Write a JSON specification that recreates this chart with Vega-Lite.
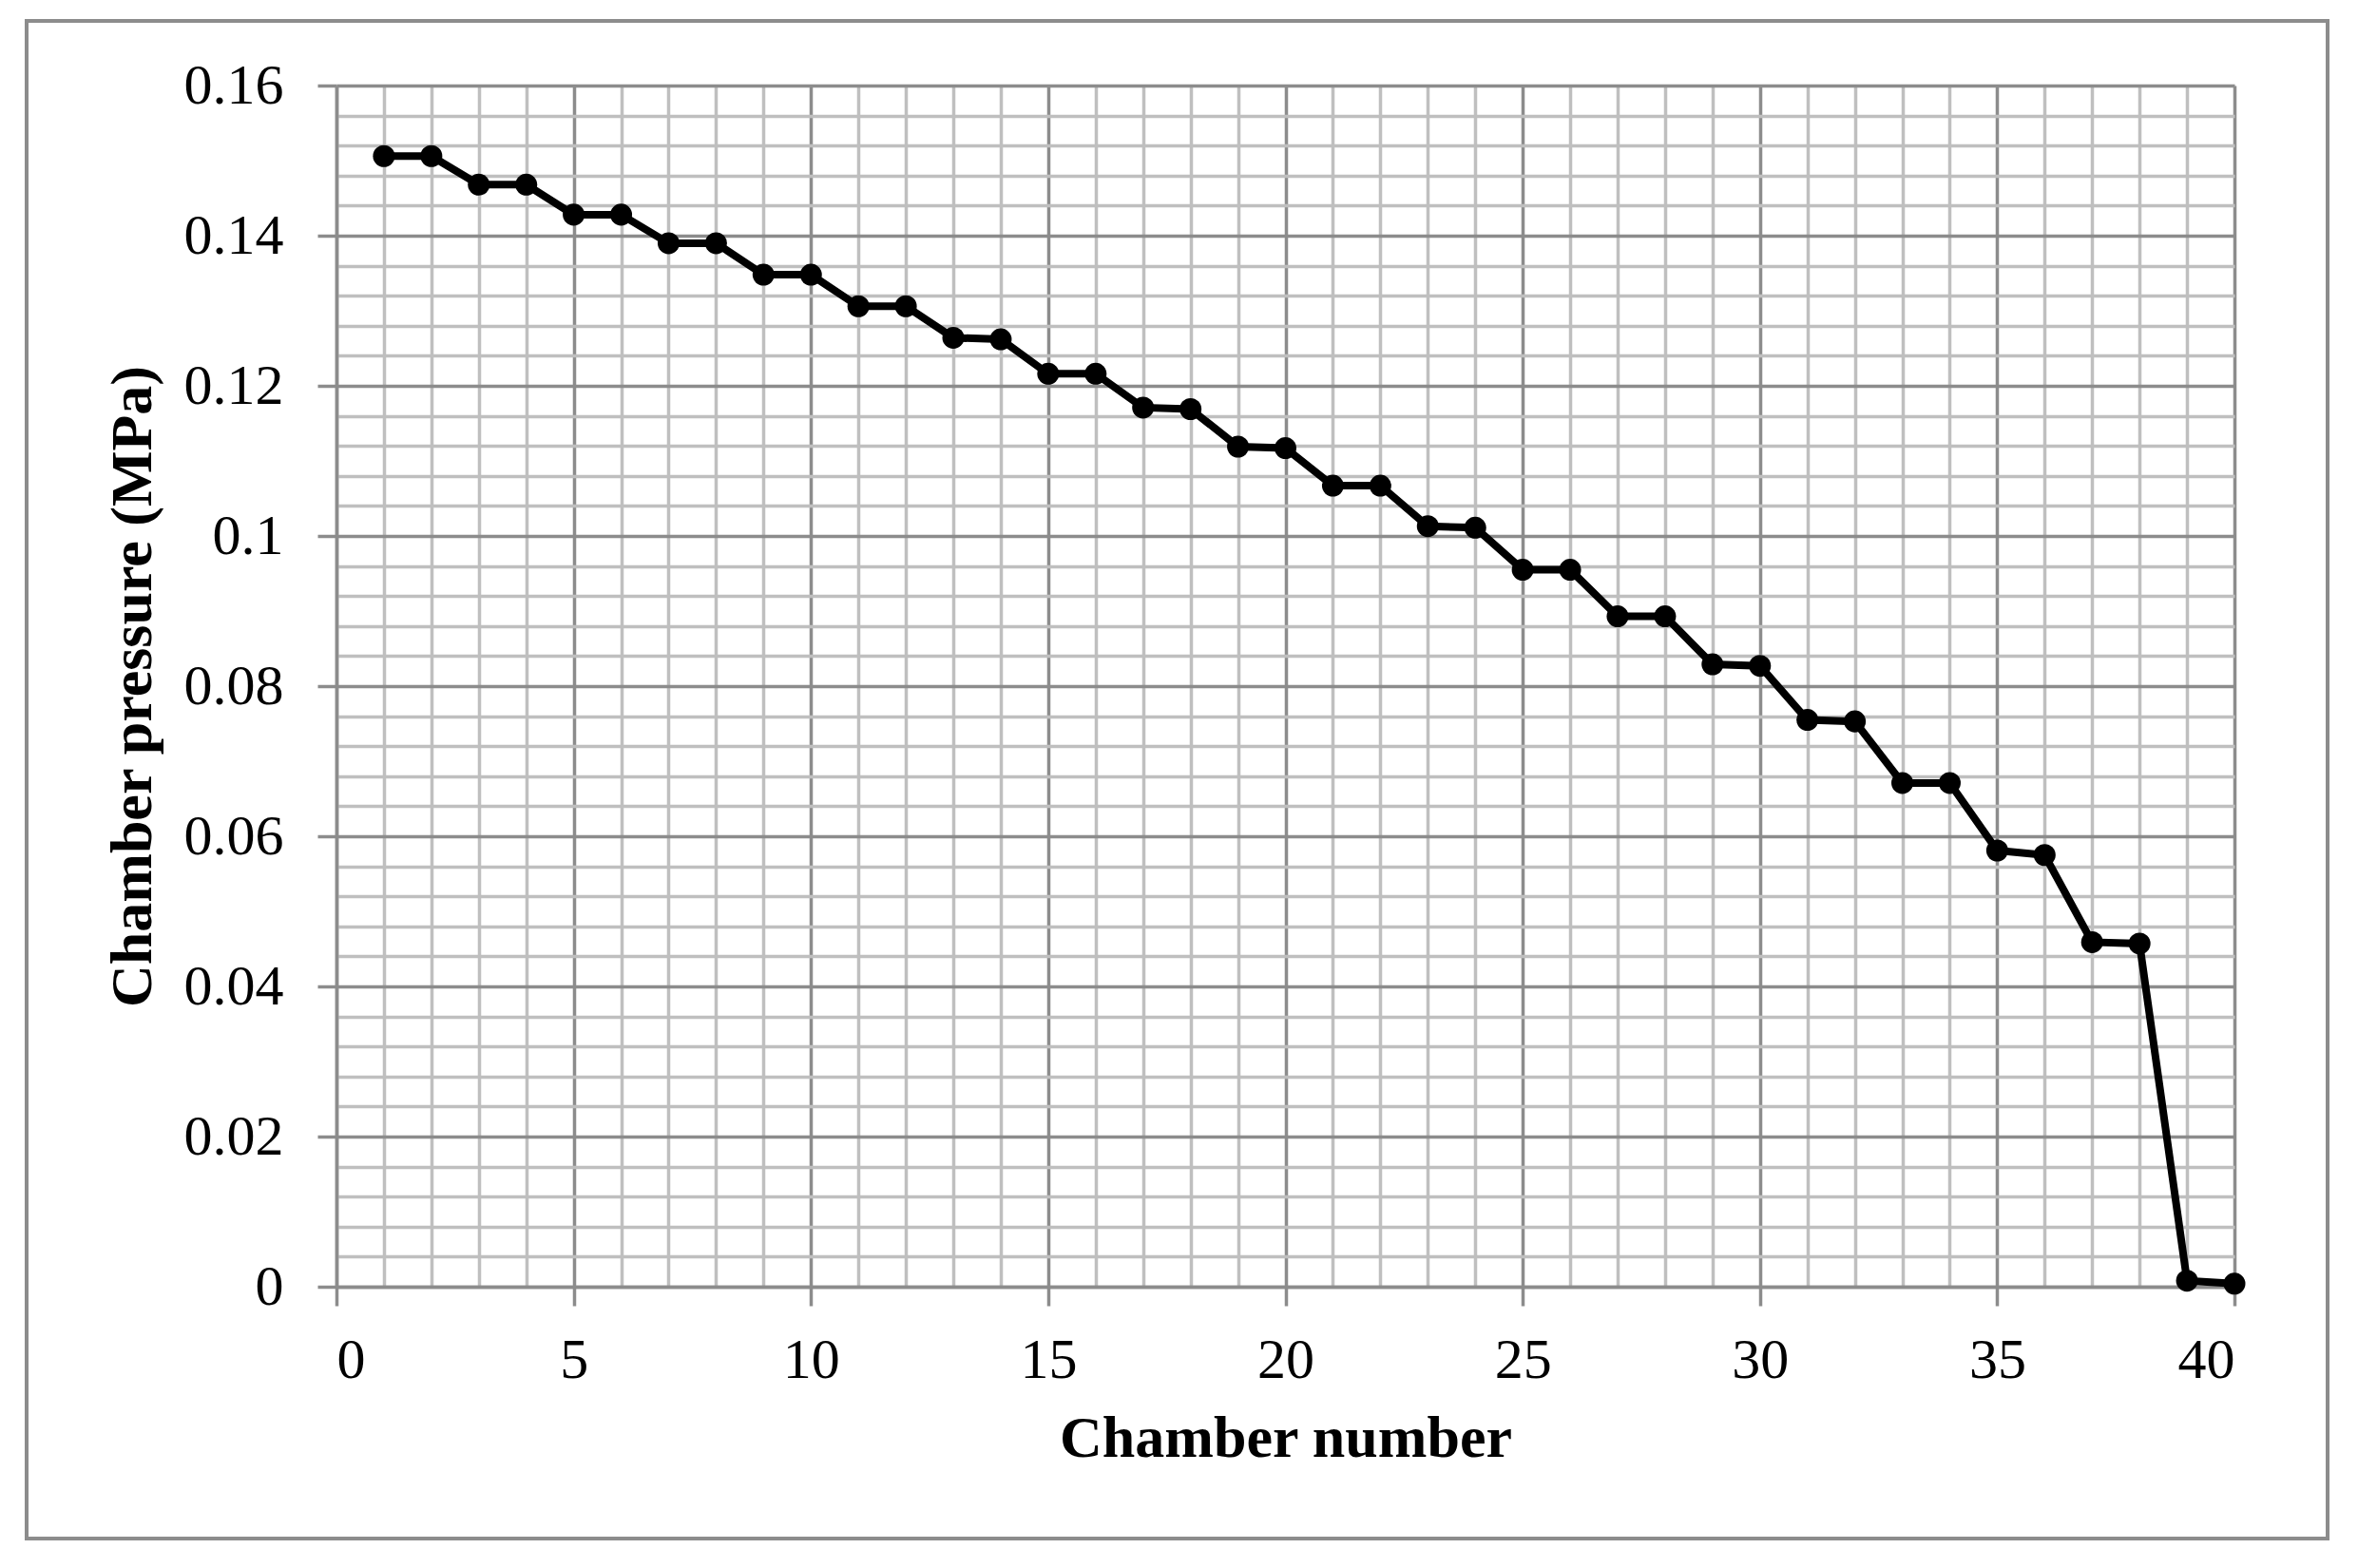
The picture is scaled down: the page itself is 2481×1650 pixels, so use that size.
{
  "$schema": "https://vega.github.io/schema/vega-lite/v6.json",
  "width": 1997,
  "height": 1264,
  "autosize": {"type": "none"},
  "padding": {"left": 354, "top": 90, "right": 130, "bottom": 296},
  "background": "white",
  "config": {"view": {"stroke": null}},
  "datasets": {
    "pressure": [
      {"chamber": 1, "p": 0.1506}, {"chamber": 2, "p": 0.1506},
      {"chamber": 3, "p": 0.1468}, {"chamber": 4, "p": 0.1468},
      {"chamber": 5, "p": 0.1428}, {"chamber": 6, "p": 0.1428},
      {"chamber": 7, "p": 0.1390}, {"chamber": 8, "p": 0.1390},
      {"chamber": 9, "p": 0.1348}, {"chamber": 10, "p": 0.1348},
      {"chamber": 11, "p": 0.1306}, {"chamber": 12, "p": 0.1306},
      {"chamber": 13, "p": 0.1264}, {"chamber": 14, "p": 0.1262},
      {"chamber": 15, "p": 0.1216}, {"chamber": 16, "p": 0.1216},
      {"chamber": 17, "p": 0.1171}, {"chamber": 18, "p": 0.1169},
      {"chamber": 19, "p": 0.1119}, {"chamber": 20, "p": 0.1117},
      {"chamber": 21, "p": 0.1067}, {"chamber": 22, "p": 0.1067},
      {"chamber": 23, "p": 0.1013}, {"chamber": 24, "p": 0.1011},
      {"chamber": 25, "p": 0.0955}, {"chamber": 26, "p": 0.0955},
      {"chamber": 27, "p": 0.0893}, {"chamber": 28, "p": 0.0893},
      {"chamber": 29, "p": 0.0829}, {"chamber": 30, "p": 0.0827},
      {"chamber": 31, "p": 0.0755}, {"chamber": 32, "p": 0.0753},
      {"chamber": 33, "p": 0.0671}, {"chamber": 34, "p": 0.0671},
      {"chamber": 35, "p": 0.0581}, {"chamber": 36, "p": 0.0575},
      {"chamber": 37, "p": 0.0459}, {"chamber": 38, "p": 0.0457},
      {"chamber": 39, "p": 0.0008}, {"chamber": 40, "p": 0.0004}
    ]
  },
  "data": {"name": "pressure"},
  "layer": [
    {
      "mark": {"type": "rect", "fill": null, "stroke": "#8c8c8c", "strokeWidth": 3, "clip": false},
      "encoding": {
        "x": {"datum": -6.53, "type": "quantitative", "scale": {"domain": [0, 40], "nice": false, "zero": false}, "axis": null},
        "x2": {"datum": 41.96},
        "y": {"datum": 0.1686, "type": "quantitative", "scale": {"domain": [0, 0.16], "nice": false, "zero": false}, "axis": null},
        "y2": {"datum": -0.03354}
      }
    },
    {
      "mark": {"type": "line", "color": "black", "strokeWidth": 8},
      "encoding": {
        "x": {
          "field": "chamber", "type": "quantitative",
          "axis": {
            "orient": "bottom",
            "values": [1,2,3,4,6,7,8,9,11,12,13,14,16,17,18,19,21,22,23,24,26,27,28,29,31,32,33,34,36,37,38,39],
            "grid": true, "gridColor": "#bfbfbf", "gridWidth": 3.5,
            "labels": false, "ticks": false, "domain": false, "title": null
          }
        },
        "y": {
          "field": "p", "type": "quantitative",
          "axis": {
            "orient": "left",
            "values": [0.004,0.008,0.012,0.016,0.024,0.028,0.032,0.036,0.044,0.048,0.052,0.056,0.064,0.068,0.072,0.076,0.084,0.088,0.092,0.096,0.104,0.108,0.112,0.116,0.124,0.128,0.132,0.136,0.144,0.148,0.152,0.156],
            "grid": true, "gridColor": "#bfbfbf", "gridWidth": 3.5,
            "labels": false, "ticks": false, "domain": false, "title": null
          }
        }
      }
    },
    {
      "mark": {"type": "point", "filled": true, "color": "black", "opacity": 1, "size": 530, "shape": "circle"},
      "encoding": {
        "x": {
          "field": "chamber", "type": "quantitative",
          "axis": {
            "orient": "bottom",
            "values": [0, 5, 10, 15, 20, 25, 30, 35, 40],
            "grid": true, "gridColor": "#8c8c8c", "gridWidth": 3.5,
            "domainColor": "#8c8c8c", "domainWidth": 3.5,
            "tickColor": "#8c8c8c", "tickWidth": 3.5, "tickSize": 20,
            "labelFont": "Liberation Serif", "labelFontSize": 60, "labelColor": "black", "labelPadding": 28,
            "title": "Chamber number",
            "titleFont": "Liberation Serif", "titleFontSize": 62, "titleFontWeight": "bold", "titleColor": "black", "titlePadding": 22
          }
        },
        "y": {
          "field": "p", "type": "quantitative",
          "axis": {
            "orient": "left",
            "values": [0, 0.02, 0.04, 0.06, 0.08, 0.1, 0.12, 0.14, 0.16],
            "format": "~g",
            "grid": true, "gridColor": "#8c8c8c", "gridWidth": 3.5,
            "domainColor": "#8c8c8c", "domainWidth": 3.5,
            "tickColor": "#8c8c8c", "tickWidth": 3.5, "tickSize": 20,
            "labelFont": "Liberation Serif", "labelFontSize": 60, "labelColor": "black", "labelPadding": 36,
            "title": "Chamber pressure (MPa)",
            "titleFont": "Liberation Serif", "titleFontSize": 62, "titleFontWeight": "bold", "titleColor": "black", "titlePadding": 22
          }
        }
      }
    }
  ],
  "resolve": {"axis": {"x": "independent", "y": "independent"}}
}
